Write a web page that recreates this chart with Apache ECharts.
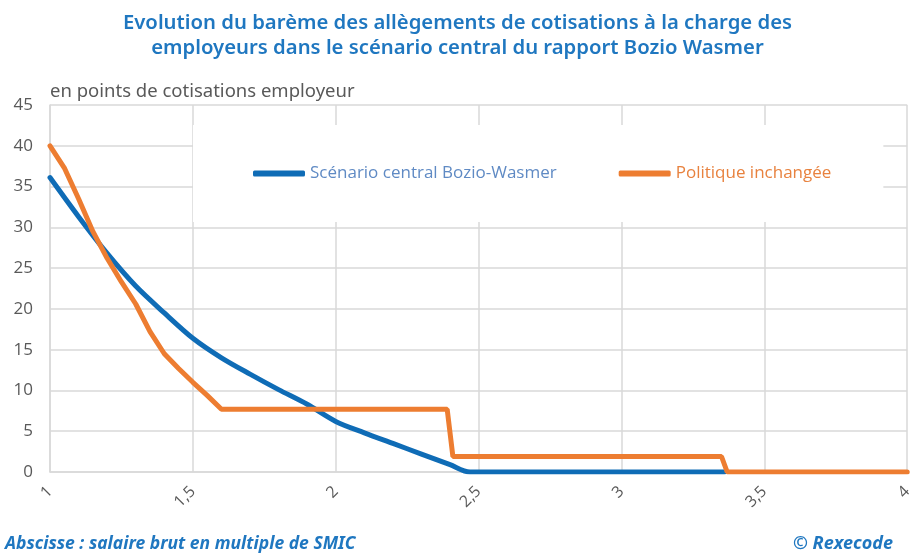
<!DOCTYPE html>
<html>
<head>
<meta charset="utf-8">
<script src="https://cdn.jsdelivr.net/npm/echarts@6/dist/echarts.min.js"></script>
<style>
  html, body { margin: 0; padding: 0; background: #fff; }
  #panel { width: 915px; height: 553px; }
</style>
</head>
<body>
<div id="panel"></div>
<script>
// salaire brut en multiple de SMIC / points de cotisations employeur
var xCentral = [1.0, 1.1, 1.2, 1.3, 1.4, 1.5, 1.6, 1.7, 1.8, 1.9, 2.0, 2.1, 2.2, 2.3, 2.4, 2.47, 3.36];
var yCentral = [36.1, 31.3, 26.8, 22.8, 19.5, 16.4, 14.0, 12.0, 10.1, 8.3, 6.2, 4.8, 3.5, 2.2, 0.9, 0, 0];

var xInchangee = [1.0, 1.05, 1.1, 1.15, 1.2, 1.25, 1.3, 1.35, 1.4, 1.45, 1.5, 1.55, 1.6, 2.39, 2.41, 3.35, 3.37, 4.0];
var yInchangee = [40, 37.3, 33.5, 29.5, 26.2, 23.3, 20.6, 17.2, 14.5, 12.7, 11.0, 9.4, 7.7, 7.7, 1.9, 1.9, 0, 0];

var seriesNames = ['Scénario central Bozio-Wasmer', 'Politique inchangée'];

function pairs(xs, ys) {
    return xs.map(function (x, i) { return [x, ys[i]]; });
}

var chartDom = document.getElementById('panel');
var myChart = echarts.init(chartDom);

var grey = '#595959';
var gridColor = '#d9d9d9';

var option = {
    backgroundColor: '#fff',
    animation: false,
    title: [
        {
            text: 'Evolution du barème des allègements de cotisations à la charge des\nemployeurs dans le scénario central du rapport Bozio Wasmer',
            left: 'center',
            top: 6,
            textStyle: { fontFamily: 'Noto Sans', fontSize: 20.3, fontWeight: 600, color: '#1f77c0', lineHeight: 25, align: 'center' }
        },
        {
            text: 'en points de cotisations employeur',
            left: 45,
            top: 77,
            textStyle: { fontFamily: 'Noto Sans', fontSize: 18.5, fontWeight: 'normal', color: grey }
        },
        {
            text: 'Abscisse : salaire brut en multiple de SMIC',
            left: 0,
            top: 530,
            textStyle: { fontFamily: 'Noto Sans', fontSize: 17.5, fontWeight: 'bold', fontStyle: 'italic', color: '#1f77c0' }
        },
        {
            text: '© Rexecode',
            right: 17,
            top: 530,
            textStyle: { fontFamily: 'Noto Sans', fontSize: 18, fontWeight: 'bold', fontStyle: 'italic', color: '#1f77c0' }
        }
    ],
    legend: {
        left: 193,
        top: 125,
        padding: [40, 52, 40, 60],
        backgroundColor: '#fff',
        itemGap: 62,
        itemWidth: 52,
        itemHeight: 6,
        icon: 'roundRect',
        textStyle: { fontFamily: 'Open Sans', fontSize: 17 },
        data: [
            { name: seriesNames[0], textStyle: { color: '#5f8ac4' } },
            { name: seriesNames[1], textStyle: { color: '#e8823f' } }
        ]
    },
    grid: { left: 50, right: 7, top: 105, bottom: 81, containLabel: false },
    xAxis: {
        type: 'value',
        min: 1,
        max: 4,
        interval: 0.5,
        axisLine: { show: true, lineStyle: { color: gridColor, width: 1.5 } },
        axisTick: { show: false },
        splitLine: { show: true, lineStyle: { color: gridColor, width: 1.5 } },
        axisLabel: {
            rotate: 45,
            margin: 17,
            color: grey,
            fontFamily: 'Open Sans',
            fontSize: 16,
            formatter: function (v) { return String(v).replace('.', ','); }
        }
    },
    yAxis: {
        type: 'value',
        min: 0,
        max: 45,
        interval: 5,
        axisLine: { show: true, lineStyle: { color: gridColor, width: 1.5 } },
        axisTick: { show: false },
        splitLine: { show: true, lineStyle: { color: gridColor, width: 1.5 } },
        axisLabel: { color: grey, fontFamily: 'Open Sans', fontSize: 17, margin: 17 }
    },
    series: [
        {
            name: seriesNames[0],
            type: 'line',
            data: pairs(xCentral, yCentral),
            smooth: 0.3,
            showSymbol: false,
            color: '#0f6cb6',
            lineStyle: { width: 5, color: '#0f6cb6', cap: 'round' }
        },
        {
            name: seriesNames[1],
            type: 'line',
            data: pairs(xInchangee, yInchangee),
            showSymbol: false,
            color: '#ed7d31',
            lineStyle: { width: 5, color: '#ed7d31', cap: 'round' }
        }
    ]
};

myChart.setOption(option);
</script>
</body>
</html>
